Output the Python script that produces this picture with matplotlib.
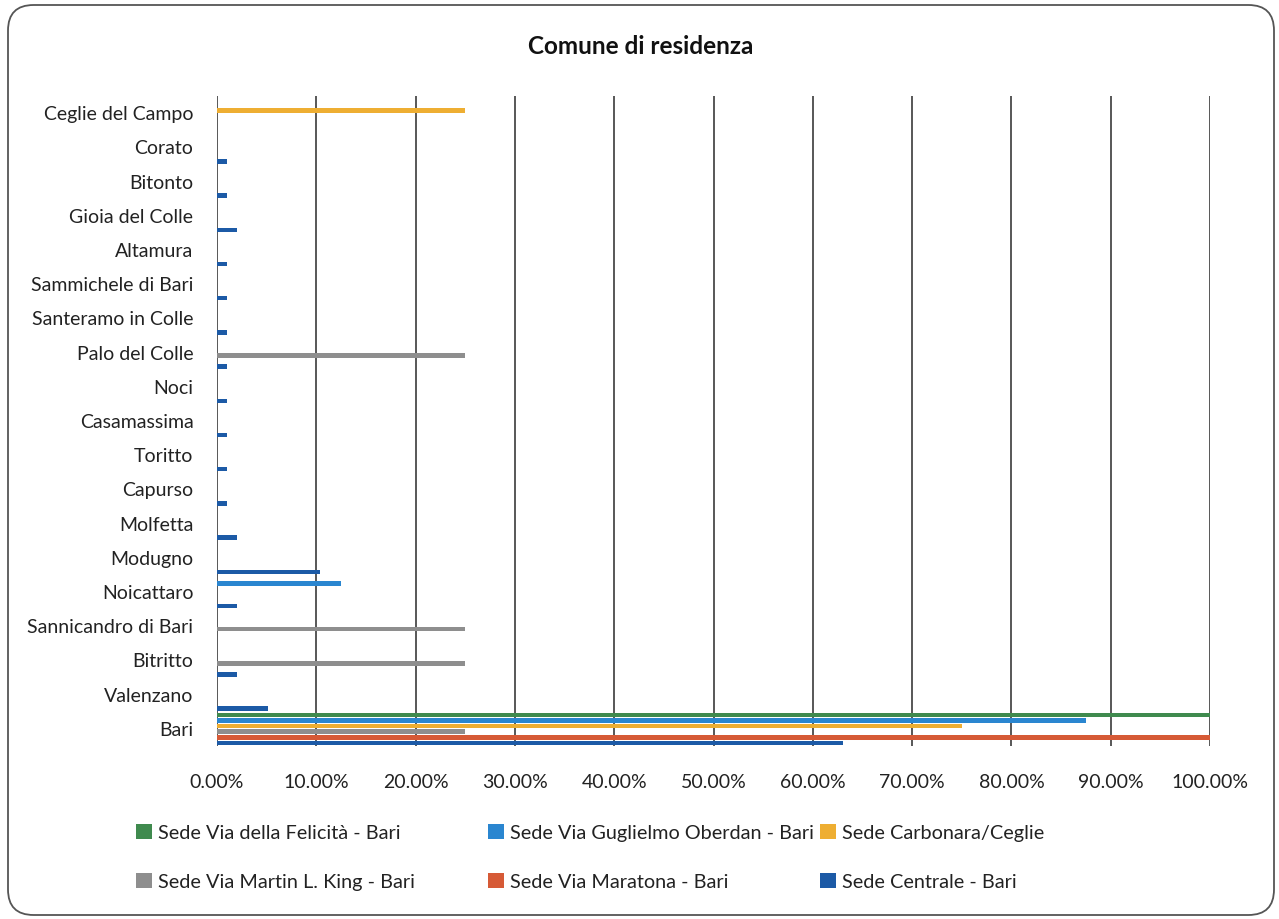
import matplotlib
matplotlib.use("Agg")
import matplotlib.pyplot as plt
from matplotlib.patches import FancyBboxPatch, Patch
from matplotlib.ticker import PercentFormatter
import numpy as np

plt.rcParams['font.family'] = ['Lato', 'DejaVu Sans']

categories = ["Bari", "Valenzano", "Bitritto", "Sannicandro di Bari", "Noicattaro",
              "Modugno", "Molfetta", "Capurso", "Toritto", "Casamassima", "Noci",
              "Palo del Colle", "Santeramo in Colle", "Sammichele di Bari", "Altamura",
              "Gioia del Colle", "Bitonto", "Corato", "Ceglie del Campo"]

# values in percent, bottom-to-top category order
sede_centrale = [63.0, 5.1, 2.0, 0, 2.0, 10.4, 2.0, 1.0, 1.0, 1.0, 1.0,
                 1.0, 1.0, 1.0, 1.0, 2.0, 1.0, 1.0, 0]
sede_maratona = [100, 0, 0, 0, 0, 0, 0, 0, 0, 0, 0, 0, 0, 0, 0, 0, 0, 0, 0]
sede_mlk = [25, 0, 25, 25, 0, 0, 0, 0, 0, 0, 0, 25, 0, 0, 0, 0, 0, 0, 0]
sede_carbonara = [75, 0, 0, 0, 0, 0, 0, 0, 0, 0, 0, 0, 0, 0, 0, 0, 0, 0, 25]
sede_oberdan = [87.5, 0, 0, 0, 12.5, 0, 0, 0, 0, 0, 0, 0, 0, 0, 0, 0, 0, 0, 0]
sede_felicita = [100, 0, 0, 0, 0, 0, 0, 0, 0, 0, 0, 0, 0, 0, 0, 0, 0, 0, 0]

series_names = ["Sede Centrale - Bari", "Sede Via Maratona - Bari",
                "Sede Via Martin L. King - Bari", "Sede Carbonara/Ceglie",
                "Sede Via Guglielmo Oberdan - Bari", "Sede Via della Felicità - Bari"]
series_values = [sede_centrale, sede_maratona, sede_mlk, sede_carbonara,
                 sede_oberdan, sede_felicita]
colors = ["#1c5aa6", "#d65a36", "#8e8e8e", "#eeae32", "#2a86d0", "#3f8a4e"]

W, H = 1279, 919
fig = plt.figure(figsize=(W / 100, H / 100), dpi=100)
fig.patch.set_facecolor("white")

# rounded frame
frame = FancyBboxPatch((8 / W, 4 / H), 1266 / W, 910 / H,
                       boxstyle="round,pad=0,rounding_size=0.02",
                       transform=fig.transFigure, facecolor="none",
                       edgecolor="#555555", linewidth=1.3,
                       mutation_aspect=W / H)
fig.patches.append(frame)

ax = fig.add_axes([217 / W, 1 - 746 / H, (1210 - 217) / W, (746 - 96) / H])
y = np.arange(len(categories))
step = 0.164
height = 0.13
for i, (name, vals, c) in enumerate(zip(series_names, series_values, colors)):
    ax.barh(y + (i - 2.5) * step, vals, height=height, color=c, label=name, zorder=3)

ax.set_xlim(0, 100)
ax.set_ylim(-0.5, len(categories) - 0.5)
ax.set_xticks(np.arange(0, 101, 10))
ax.xaxis.set_major_formatter(PercentFormatter(xmax=100, decimals=2))
ax.set_yticks(y)
ax.set_yticklabels(categories)
ax.tick_params(axis='both', length=0, labelsize=14, colors="#222222")
ax.tick_params(axis='y', pad=17)
ax.tick_params(axis='x', pad=20)
ax.grid(axis='x', color="#2a2a2a", linewidth=1.1, zorder=0)
for s in ax.spines.values():
    s.set_visible(False)

fig.text(641 / W, 1 - 46 / H, "Comune di residenza", ha="center", va="center",
         fontsize=17.5, fontweight="bold", color="#111111")

# legend entries placed as in the reference (row-major)
legend_pos = [
    ("Sede Via della Felicità - Bari", 136, 833),
    ("Sede Via Guglielmo Oberdan - Bari", 488, 833),
    ("Sede Carbonara/Ceglie", 820, 833),
    ("Sede Via Martin L. King - Bari", 136, 882),
    ("Sede Via Maratona - Bari", 488, 882),
    ("Sede Centrale - Bari", 820, 882),
]
cmap = dict(zip(series_names, colors))
for name, px, py in legend_pos:
    h = Patch(facecolor=cmap[name], edgecolor="none", label=name)
    fig.legend(handles=[h], loc="center left", bbox_to_anchor=(px / W, 1 - py / H),
               frameon=False, fontsize=14.3, handlelength=0.8, handleheight=0.8,
               handletextpad=0.3, borderpad=0, borderaxespad=0, labelcolor="#222222")

fig.savefig("out.png", dpi=100)
